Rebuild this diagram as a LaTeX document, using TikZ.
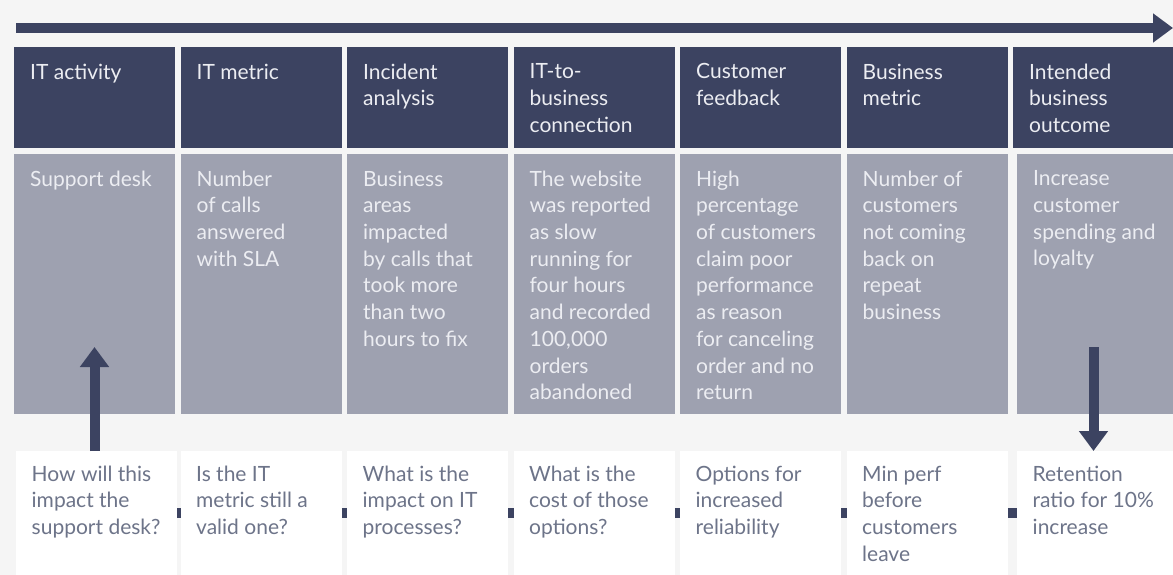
\documentclass[tikz,border=0pt]{standalone}
\usepackage{fontspec}
\setmainfont{Lato}
\usepackage{xcolor}
\usetikzlibrary{positioning,calc,arrows.meta}

\definecolor{navy}{HTML}{3C4361}
\definecolor{slate}{HTML}{9EA1B0}
\definecolor{paper}{HTML}{F5F5F5}
\definecolor{inkgray}{HTML}{6D7489}
\definecolor{pale}{HTML}{ECEDF2}

\begin{document}
\begin{tikzpicture}[x=1pt,y=-1pt,
    headbox/.style={fill=navy, minimum width=161pt, minimum height=101pt, anchor=north west, inner sep=0},
    factbox/.style={fill=slate, minimum width=161pt, minimum height=260pt, anchor=north west, inner sep=0},
    askbox/.style={fill=white, minimum width=161pt, minimum height=124pt, anchor=north west, inner sep=0},
    txt/.style={anchor=north west, inner sep=0, align=left, font=\fontsize{21}{26.7}\selectfont},
    flow/.style={navy, line width=10pt, -{Triangle[width=28pt,length=20pt]}},
    link/.style={navy, line width=10pt}]
    \clip (0,0) rectangle (1173,575);
    \fill[paper] (0,0) rectangle (1173,575);
    % timeline arrow over the columns
    \coordinate (flowStart) at (16,28);
    \coordinate (flowEnd) at (1173,28);
    \draw[flow] (flowStart) -- (flowEnd);
    % one column per step: title, example, question (\fx, \qx nudge the lower boxes)
    \foreach \i/\fx/\qx/\head/\fact/\ask in {
        1/0/2/{IT activity}/{Support desk}/{How will this\\impact the\\support desk?},
        2/0/0/{IT metric}/{Number\\of calls\\answered\\with SLA}/{Is the IT\\metric still a\\valid one?},
        3/0/0/{Incident\\analysis}/{Business\\areas\\impacted\\by calls that\\took more\\than two\\hours to fix}/{What is the\\impact on IT\\processes?},
        4/0/0/{IT-to-\\business\\connection}/{The website\\was reported\\as slow\\running for\\four hours\\and recorded\\100,000\\orders\\abandoned}/{What is the\\cost of those\\options?},
        5/0/0/{Customer\\feedback}/{High\\percentage\\of customers\\claim poor\\performance\\as reason\\for canceling\\order and no\\return}/{Options for\\increased\\reliability},
        6/0/0/{Business\\metric}/{Number of\\customers\\not coming\\back on\\repeat\\business}/{Min perf\\before\\customers\\leave},
        7/4/4/{Intended\\business\\outcome}/{Increase\\customer\\spending and\\loyalty}/{Retention\\ratio for 10\%\\increase}}{
        \node[headbox] (h\i) at ({14+(\i-1)*166.5},47) {};
        \node[factbox] (f\i) at ({14+(\i-1)*166.5+\fx},154) {};
        \node[askbox] (q\i) at ({14+(\i-1)*166.5+\qx},451) {};
        \node[txt, pale, below right=16.5pt and 16pt of h\i.north west] (ht\i) {\head};
        \node[txt, pale, below right=16.5pt and 16pt of f\i.north west] (ft\i) {\fact};
        \node[txt, inkgray, below right=14.5pt and 15.5pt of q\i.north west] (qt\i) {\ask};
    }
    % small links between the questions
    \foreach \i [evaluate=\i as \j using int(\i+1)] in {1,...,6}
        \draw[link] (q\i.east) -- (q\j.west);
    % up and down arrows
    \coordinate (upTip) at ($(h1.west |- q1.north)+(80.5,-104)$);
    \draw[flow] (upTip |- q1.north) -- (upTip);
    \coordinate (downTail) at ($(h7.west |- q7.north)+(80.5,-104)$);
    \draw[flow] (downTail) -- (downTail |- q7.north);
\end{tikzpicture}
\end{document}
